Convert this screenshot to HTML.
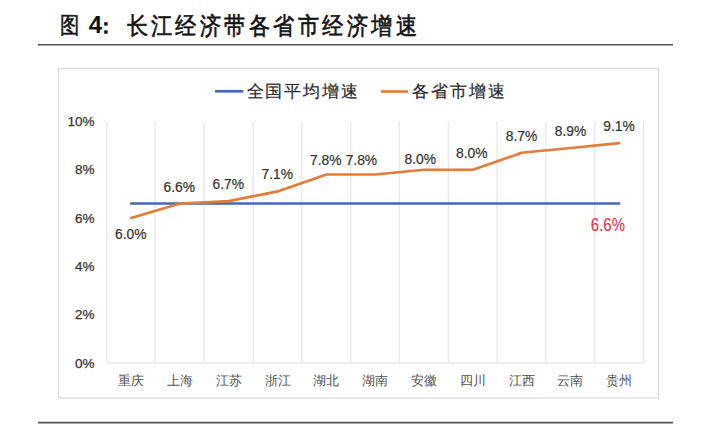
<!DOCTYPE html>
<html><head><meta charset="utf-8">
<style>
html,body{margin:0;padding:0;background:#fff;width:708px;height:438px;overflow:hidden;}
svg{display:block;position:absolute;left:0;top:0;}
.t{font-family:"Liberation Serif",serif;}
.s{font-family:"Liberation Sans",sans-serif;}
</style></head>
<body>
<svg width="708" height="438" viewBox="0 0 708 438">
<!-- title -->
<text x="60.5" y="32.7" font-size="24" fill="#111" stroke="#111" stroke-width="0.5" class="t" transform="translate(60.5,33.6) scale(0.8,0.95) translate(-60.5,-33.6)">图</text>
<text x="88.7" y="33.2" font-size="24" fill="#111" class="s" font-weight="bold">4</text>
<rect x="104.2" y="22.2" width="3.4" height="3.4" fill="#111"/><rect x="104.2" y="30.3" width="3.4" height="3.4" fill="#111"/>
<text x="0" y="33.6" font-size="24" fill="#111" stroke="#111" stroke-width="0.6" class="t" letter-spacing="3.4" transform="translate(126.5,0) scale(0.88,1)">长江经济带各省市经济增速</text>
<line x1="38" y1="44.7" x2="673" y2="44.7" stroke="#555" stroke-width="1.6"/>
<line x1="38" y1="422.6" x2="673" y2="422.6" stroke="#555" stroke-width="1.6"/>
<!-- chart box -->
<rect x="58.5" y="68.5" width="600" height="329.5" fill="#fff" stroke="#d9d9d9" stroke-width="1.2"/>
<line x1="542" y1="398" x2="656" y2="398" stroke="#ececec" stroke-width="1.4"/>
<!-- gridlines -->
<g stroke="#e8e8e8" stroke-width="1.3">
<line x1="106.8" y1="122" x2="106.8" y2="363"/>
<line x1="155.0" y1="122" x2="155.0" y2="363"/>
<line x1="203.9" y1="122" x2="203.9" y2="363"/>
<line x1="253.2" y1="122" x2="253.2" y2="363"/>
<line x1="301.8" y1="122" x2="301.8" y2="363"/>
<line x1="350.8" y1="122" x2="350.8" y2="363"/>
<line x1="399.4" y1="122" x2="399.4" y2="363"/>
<line x1="448.4" y1="122" x2="448.4" y2="363"/>
<line x1="497.1" y1="122" x2="497.1" y2="363"/>
<line x1="545.8" y1="122" x2="545.8" y2="363"/>
<line x1="594.7" y1="122" x2="594.7" y2="363"/>
<line x1="643.6" y1="122" x2="643.6" y2="363"/>
<line x1="106.8" y1="363" x2="643.6" y2="363"/>
</g>
<!-- y axis labels -->
<g class="s" font-size="13.5" fill="#333" stroke="#333" stroke-width="0.25" text-anchor="end">
<text x="94.5" y="126">10%</text>
<text x="94.5" y="174">8%</text>
<text x="94.5" y="222.5">6%</text>
<text x="94.5" y="270.5">4%</text>
<text x="94.5" y="319">2%</text>
<text x="94.5" y="367.5">0%</text>
</g>
<!-- lines -->
<polyline fill="none" stroke="#4468b6" stroke-width="2.6" stroke-linecap="round" points="131.2,203.5 619.2,203.5"/>
<polyline fill="none" stroke="#e47b38" stroke-width="2.6" stroke-linecap="round" stroke-linejoin="round" points="131.2,218.0 180.0,203.5 228.8,201.1 277.6,191.4 326.4,174.5 375.2,174.5 424.0,169.7 472.8,169.7 521.6,152.8 570.4,148.0 619.2,143.1"/>
<!-- data labels -->
<g class="s" font-size="13.8" fill="#333" stroke="#333" stroke-width="0.2" text-anchor="middle">
<text x="130.8" y="239.2">6.0%</text>
<text x="179.2" y="191.8">6.6%</text>
<text x="228.2" y="189.2">6.7%</text>
<text x="277.2" y="179">7.1%</text>
<text x="325.7" y="164.7">7.8%</text>
<text x="361.4" y="164.7">7.8%</text>
<text x="420.3" y="163.9">8.0%</text>
<text x="471.8" y="158">8.0%</text>
<text x="521.5" y="141">8.7%</text>
<text x="570.5" y="135.7">8.9%</text>
<text x="619.1" y="131.2">9.1%</text>
</g>
<text x="0" y="0" class="s" font-size="15" fill="#da2c40" text-anchor="middle" transform="translate(607.9,230.5) scale(1,1.2)">6.6%</text>
<!-- legend -->
<line x1="215" y1="91.3" x2="243.4" y2="91.3" stroke="#4468b6" stroke-width="2.6"/>
<text x="246.5" y="97.2" class="t" font-size="17" fill="#2a2a2a" stroke="#2a2a2a" stroke-width="0.2" letter-spacing="1.86">全国平均增速</text>
<line x1="380.8" y1="91.5" x2="408" y2="91.5" stroke="#e47b38" stroke-width="2.6"/>
<text x="412.2" y="97.2" class="t" font-size="17" fill="#2a2a2a" stroke="#2a2a2a" stroke-width="0.2" letter-spacing="1.86">各省市增速</text>
<!-- category labels -->
<g class="t" font-size="13" fill="#505050" text-anchor="middle">
<text x="131.2" y="384.8">重庆</text>
<text x="180" y="384.8">上海</text>
<text x="228.8" y="384.8">江苏</text>
<text x="277.6" y="384.8">浙江</text>
<text x="326.4" y="384.8">湖北</text>
<text x="375.2" y="384.8">湖南</text>
<text x="424" y="384.8">安徽</text>
<text x="472.8" y="384.8">四川</text>
<text x="521.6" y="384.8">江西</text>
<text x="570.4" y="384.8">云南</text>
<text x="619.2" y="384.8">贵州</text>
</g>
</svg>
</body></html>
